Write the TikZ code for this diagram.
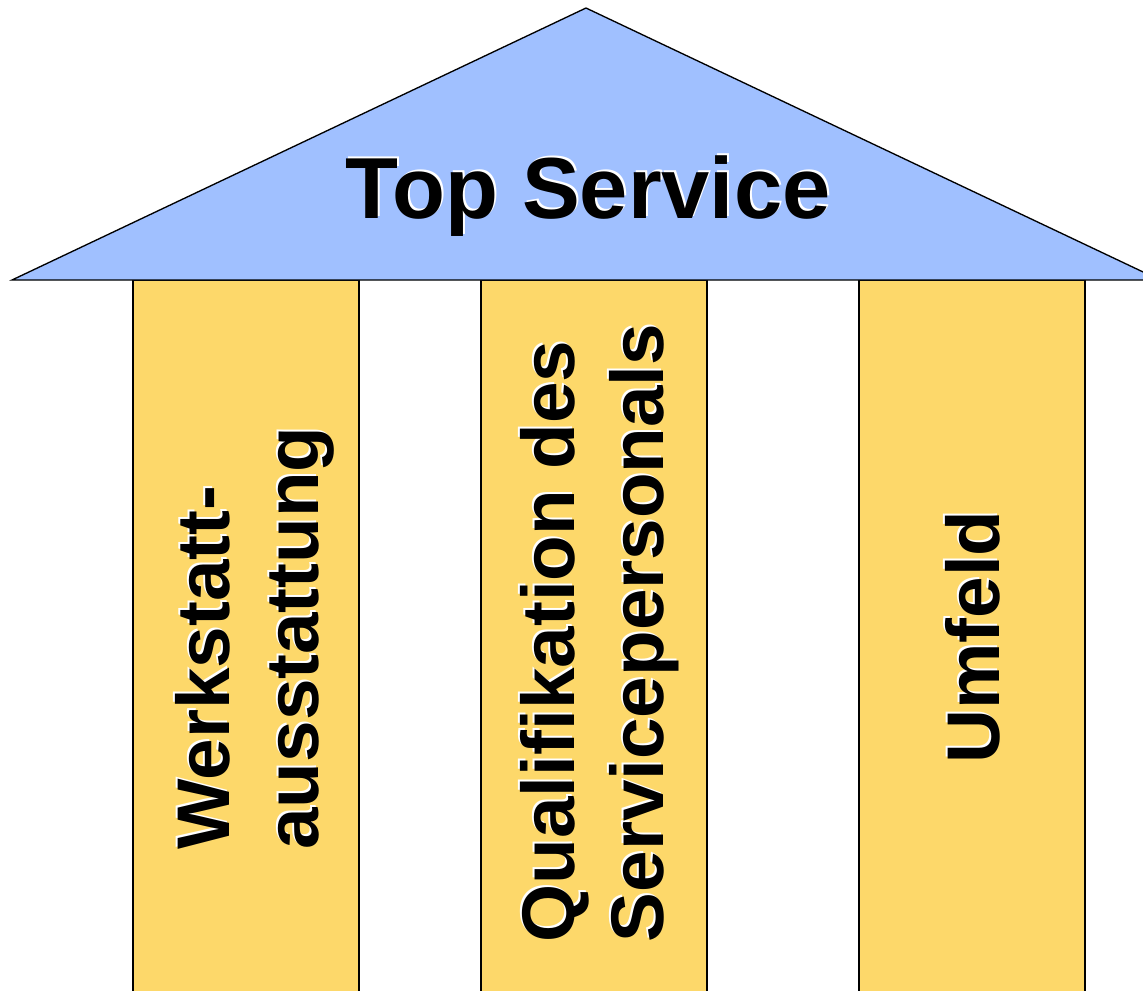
\documentclass[tikz,border=0pt]{standalone}
\usepackage{fontspec}
\setmainfont{Liberation Sans}
\definecolor{roofblue}{RGB}{160,192,255}
\definecolor{pillaryellow}{RGB}{253,216,106}
\tikzset{every picture/.style={line width=1pt}}
\tikzset{
  pillar/.style={draw=black, fill=pillaryellow},
  pillartext/.style={rotate=90, align=left, inner sep=0pt, font=\fontsize{56}{67}\bfseries\selectfont},
  rooftext/.style={inner sep=0pt, font=\fontsize{65}{70}\bfseries\selectfont},
  shadow/.style={text=white, shift={(2,2)}}
}

\begin{document}
\begin{tikzpicture}[x=0.75pt,y=0.75pt,yscale=-1,xscale=1]
\useasboundingbox (0,0) rectangle (1143,990);

%Shape: Pillars
\draw [pillar] (133,280) rectangle (359,992) ;
\draw [pillar] (481,280) rectangle (707,992) ;
\draw [pillar] (859,280) rectangle (1085,992) ;
%Shape: Roof
\draw [fill=roofblue] (12,280) -- (586,8) -- (1160,280) -- cycle ;

% Text Node
\node [rooftext, shadow] (topshadow) at (588,196) {Top Service};
\node [rooftext] (top) at (588,196) {Top Service};
% Text Node
\node [pillartext, shadow] (werkshadow) at (255,638) {Werkstatt-\\ausstattung};
\node [pillartext] (werk) at (255,638) {Werkstatt-\\ausstattung};
% Text Node
\node [pillartext, shadow] (qualishadow) at (600,633) {Qualifikation des\\Servicepersonals};
\node [pillartext] (quali) at (600,633) {Qualifikation des\\Servicepersonals};
% Text Node
\node [pillartext, shadow] (umfeldshadow) at (973,637) {Umfeld};
\node [pillartext] (umfeld) at (973,637) {Umfeld};

\end{tikzpicture}
\end{document}
